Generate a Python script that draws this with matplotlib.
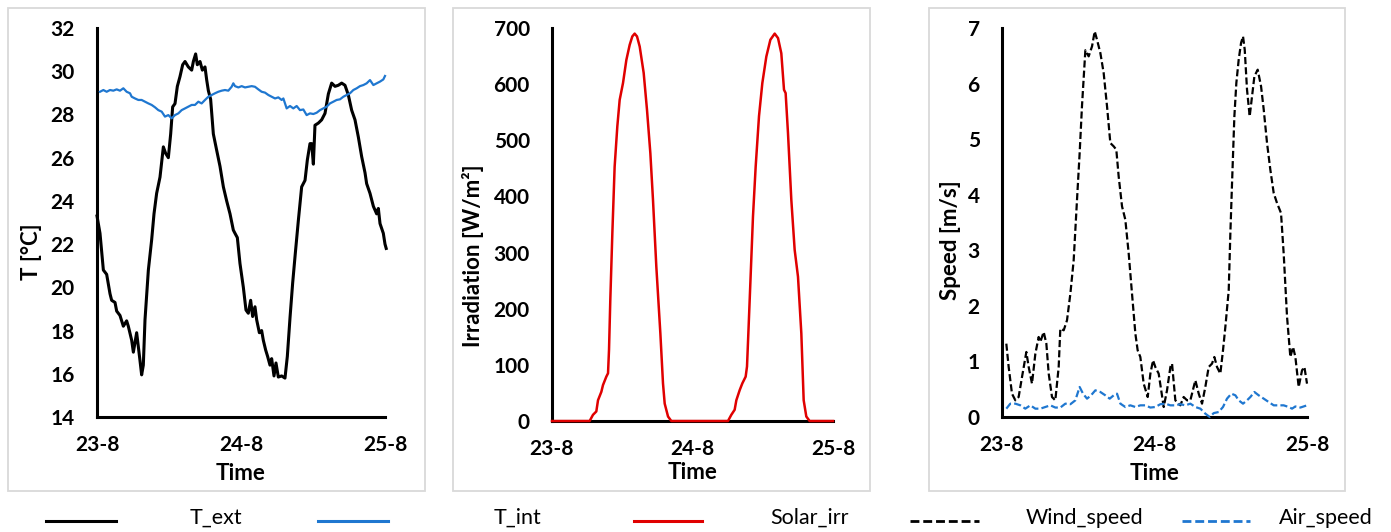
import matplotlib
matplotlib.use("Agg")
import matplotlib.pyplot as plt
from matplotlib.lines import Line2D
from matplotlib.patches import Rectangle

plt.rcParams['font.family'] = ['Lato', 'DejaVu Sans']

# ---------------- data (time in hours from 23-8 00:00) ----------------
date_ticks = [0, 24, 48]
date_labels = ["23-8", "24-8", "25-8"]

t_ext_hours = [0.0, 0.5, 1.06, 1.61, 2.17, 2.44, 3.0, 3.28, 3.83, 4.39, 4.94, 5.22, 5.78, 6.06,
               6.61, 6.89, 7.17, 7.44, 7.72, 8.0, 8.56, 9.11, 9.5, 9.94, 10.5, 11.06, 11.44,
               11.89, 12.28, 12.61, 13.0, 13.39, 13.83, 14.28, 14.67, 15.22, 15.78, 16.06, 16.44,
               16.72, 17.17, 17.56, 18.0, 18.28, 18.56, 18.94, 19.39, 19.94, 20.5, 21.06, 21.61,
               22.17, 22.72, 23.0, 23.39, 23.83, 24.39, 24.83, 25.22, 25.61, 25.94, 26.33, 26.61,
               27.06, 27.44, 27.72, 28.11, 28.44, 28.83, 29.11, 29.5, 29.83, 30.22, 30.78, 31.33,
               31.72, 32.17, 32.61, 33.06, 33.56, 34.11, 34.67, 35.06, 35.5, 35.78, 36.06, 36.33,
               36.89, 37.44, 38.0, 38.56, 39.11, 39.67, 40.22, 40.78, 41.33, 41.89, 42.44, 43.0,
               43.56, 44.11, 44.67, 44.94, 45.5, 46.06, 46.61, 46.89, 47.17, 47.72, 48.0, 48.2]
t_ext_values = [23.3, 22.5, 20.8, 20.6, 19.7, 19.4, 19.3, 18.9, 18.7, 18.2, 18.45, 18.2, 17.55, 17.0,
                17.9, 17.25, 16.6, 15.95, 16.4, 18.5, 20.8, 22.2, 23.4, 24.35, 25.1, 26.5, 26.2,
                26.0, 27.1, 28.35, 28.5, 29.3, 29.75, 30.3, 30.45, 30.2, 30.05, 30.45, 30.8, 30.3,
                30.45, 30.05, 30.2, 29.6, 29.1, 28.7, 27.1, 26.35, 25.6, 24.65, 24.0, 23.4, 22.65,
                22.5, 22.3, 21.1, 20.0, 18.95, 18.8, 19.4, 18.65, 19.1, 18.5, 17.9, 18.0, 17.55,
                17.1, 16.8, 16.4, 16.7, 15.9, 16.5, 15.85, 15.9, 15.8, 16.8, 18.6, 20.2, 21.6, 23.1,
                24.65, 24.95, 25.9, 26.65, 26.65, 25.7, 27.5, 27.6, 27.75, 28.05, 28.95, 29.45,
                29.3, 29.35, 29.45, 29.35, 28.9, 28.2, 27.75, 26.95, 26.05, 25.3, 24.8, 24.35,
                23.75, 23.4, 23.65, 22.95, 22.5, 22.0, 21.8]

t_int_hours = [0.5, 1.06, 1.61, 2.17, 2.72, 3.28, 3.83, 4.39, 4.94, 5.5, 5.78, 6.33, 6.89, 7.44,
               8.0, 8.56, 9.11, 9.67, 10.22, 10.78, 11.33, 11.89, 12.44, 13.0, 13.56, 14.11, 14.67,
               15.22, 15.78, 16.33, 16.89, 17.44, 18.0, 18.56, 19.11, 19.67, 20.22, 20.78, 21.33,
               21.89, 22.44, 22.72, 23.0, 23.56, 24.11, 24.67, 25.22, 25.78, 26.33, 26.89, 27.44,
               28.0, 28.56, 29.11, 29.67, 30.22, 30.78, 31.06, 31.61, 32.17, 32.72, 33.28, 33.83,
               34.39, 34.94, 35.5, 36.06, 36.61, 37.17, 37.72, 38.28, 38.83, 39.39, 39.94, 40.5,
               41.06, 41.61, 42.17, 42.72, 43.28, 43.83, 44.39, 44.94, 45.5, 46.06, 46.61, 47.17,
               47.72, 48.0]
t_int_values = [29.05, 29.13, 29.05, 29.13, 29.10, 29.16, 29.10, 29.21, 29.05, 28.98, 28.82, 28.74,
                28.67, 28.67, 28.59, 28.51, 28.44, 28.33, 28.20, 28.13, 27.90, 27.97, 27.82, 27.97,
                28.05, 28.20, 28.28, 28.36, 28.44, 28.44, 28.59, 28.51, 28.67, 28.82, 28.90, 28.98,
                29.05, 29.10, 29.13, 29.10, 29.28, 29.44, 29.31, 29.25, 29.31, 29.25, 29.28, 29.31,
                29.28, 29.16, 29.05, 29.01, 28.90, 28.82, 28.74, 28.79, 28.67, 28.74, 28.28, 28.39,
                28.28, 28.39, 28.20, 28.23, 27.97, 28.05, 28.02, 28.08, 28.20, 28.28, 28.36, 28.51,
                28.59, 28.67, 28.70, 28.82, 28.90, 28.98, 29.13, 29.21, 29.31, 29.36, 29.44, 29.59,
                29.36, 29.44, 29.52, 29.62, 29.78]

solar_hours = [0.0, 6.43, 7.0, 7.57, 7.86, 8.43, 8.71, 9.28, 9.57, 9.74, 9.96, 10.31, 10.70, 11.16,
               11.56, 12.13, 12.70, 13.27, 13.72, 14.12, 14.52, 14.98, 15.66, 16.23, 16.80, 17.25,
               17.82, 18.51, 18.96, 19.25, 19.82, 20.38,
               30.06, 30.63, 31.20, 31.49, 32.06, 32.51, 33.08, 33.31, 33.54, 33.88, 34.33, 34.79,
               35.36, 35.93, 36.61, 37.30, 38.04, 38.61, 39.17, 39.63, 39.91, 40.31, 40.88, 41.45,
               42.02, 42.59, 42.99, 43.44, 44.01, 48.0]
solar_values = [0, 0, 11, 17, 37, 52, 64, 79, 85, 127, 216, 335, 453, 525, 572, 602, 643, 670, 685,
                690, 685, 667, 620, 554, 477, 394, 275, 156, 67, 31, 8, 0,
                0, 11, 20, 37, 55, 67, 79, 97, 156, 245, 364, 453, 543, 602, 649, 679, 690, 682,
                655, 590, 584, 513, 394, 305, 257, 156, 37, 8, 0, 0]

wind_hours = [0.68, 1.05, 1.57, 2.10, 2.62, 3.15, 3.83, 4.20, 4.72, 5.25, 5.77, 6.03, 6.56, 6.98,
              7.35, 7.87, 8.39, 8.92, 9.18, 9.71, 10.23, 10.76, 11.28, 11.80, 12.22, 12.59, 13.12,
              13.64, 14.17, 14.59, 14.95, 15.48, 16.00, 16.53, 17.05, 17.58, 17.99, 18.36, 18.89,
              19.41, 19.94, 20.46, 20.99, 21.35, 21.77, 22.30, 22.93, 23.35, 23.77, 24.13, 24.66,
              25.45, 25.97, 26.50, 26.76, 27.28, 28.07, 28.59, 29.12, 29.64, 30.43, 30.96, 31.48,
              32.00, 32.53, 33.05, 33.42, 33.84, 34.36, 34.78, 35.15, 35.68, 35.94, 36.20, 36.57,
              36.88, 37.25, 37.62, 37.93, 38.20, 38.56, 38.98, 39.35, 39.72, 40.24, 40.77, 41.19,
              41.71, 42.23, 42.76, 43.28, 43.91, 44.33, 44.86, 45.38, 45.80, 46.17, 46.69, 47.22,
              47.59, 48.0]
wind_values = [1.32, 0.9, 0.42, 0.30, 0.36, 0.72, 1.17, 0.9, 0.6, 1.14, 1.44, 1.35, 1.53, 1.32,
               0.78, 0.36, 0.3, 0.9, 1.59, 1.56, 1.74, 2.22, 2.82, 3.9, 4.75, 5.6, 6.6, 6.49, 6.67,
               6.94, 6.79, 6.55, 6.19, 5.59, 4.93, 4.87, 4.81, 4.33, 3.79, 3.55, 2.94, 2.22, 1.5,
               1.2, 1.08, 0.6, 0.36, 0.78, 1.02, 0.9, 0.78, 0.18, 0.48, 0.9, 0.96, 0.30, 0.21,
               0.36, 0.30, 0.30, 0.66, 0.42, 0.24, 0.54, 0.9, 0.96, 1.08, 0.9, 0.78, 1.2, 1.62,
               2.28, 3.31, 4.2, 5.41, 6.01, 6.43, 6.73, 6.85, 6.61, 5.89, 5.41, 5.77, 6.13, 6.25,
               5.95, 5.53, 4.93, 4.45, 4.03, 3.85, 3.67, 2.94, 1.8, 1.08, 1.26, 1.08, 0.54, 0.84,
               0.9, 0.6]

air_hours = [0.68, 1.31, 2.10, 2.89, 3.67, 4.46, 5.25, 6.03, 6.82, 7.61, 8.39, 9.18, 9.97, 10.76,
             11.54, 12.22, 12.75, 13.38, 14.01, 14.69, 15.48, 16.26, 16.95, 17.58, 18.10, 18.63,
             19.41, 20.20, 20.99, 21.77, 22.56, 23.35, 24.13, 24.92, 25.71, 26.50, 27.28, 28.07,
             28.86, 29.64, 30.43, 31.22, 32.00, 32.69, 33.32, 34.10, 34.78, 35.41, 36.10, 36.73,
             37.25, 37.93, 38.56, 39.09, 39.72, 40.40, 41.19, 41.97, 42.76, 43.55, 44.33, 45.12,
             45.65, 46.17, 46.96, 48.0]
air_values = [0.15, 0.24, 0.24, 0.21, 0.15, 0.21, 0.15, 0.15, 0.18, 0.21, 0.17, 0.17, 0.24, 0.23,
              0.3, 0.54, 0.42, 0.33, 0.39, 0.48, 0.45, 0.39, 0.33, 0.39, 0.42, 0.24, 0.18, 0.21,
              0.18, 0.21, 0.21, 0.17, 0.18, 0.23, 0.24, 0.21, 0.21, 0.23, 0.21, 0.24, 0.18, 0.15,
              0.06, 0.0, 0.07, 0.09, 0.18, 0.33, 0.42, 0.39, 0.3, 0.24, 0.3, 0.36, 0.45, 0.39,
              0.33, 0.27, 0.21, 0.21, 0.21, 0.18, 0.15, 0.19, 0.17, 0.21]

# ---------------- figure ----------------
W, H = 1391, 532
fig = plt.figure(figsize=(W / 100, H / 100), dpi=100)

BLACK = "#000000"
BLUE = "#1f77d0"
RED = "#e00000"
DASH = (0, (3.2, 1.4))
TICK_FS = 15
LABEL_FS = 16
LEG_FS = 15.5


def px_rect(x0, x1, ytop, ybot):
    return [x0 / W, (H - ybot) / H, (x1 - x0) / W, (ybot - ytop) / H]


# panel frames (Excel chart area borders)
for x0, x1 in [(8, 425), (453, 870), (929, 1345)]:
    fig.add_artist(Rectangle((x0 / W, (H - 491) / H), (x1 - x0) / W, (491 - 8) / H,
                             transform=fig.transFigure, fill=False, ec="#d9d9d9", lw=1.3))


def style(ax, ylim, yticks, ylabel, ylab_x, ylab_y, xlab_y):
    ax.set_xlim(0, 48)
    ax.set_ylim(*ylim)
    ax.set_yticks(yticks)
    ax.set_xticks(date_ticks)
    ax.set_xticklabels(date_labels)
    for s in ("top", "right"):
        ax.spines[s].set_visible(False)
    for s in ("left", "bottom"):
        ax.spines[s].set_linewidth(2.2)
        ax.spines[s].set_color("black")
    ax.tick_params(axis="y", length=0, pad=16, labelsize=TICK_FS)
    ax.tick_params(axis="x", length=0, pad=13, labelsize=TICK_FS)
    for lab in ax.get_xticklabels() + ax.get_yticklabels():
        lab.set_fontweight("bold")
    ax.set_xlabel("Time", fontsize=LABEL_FS, fontweight="bold")
    ax.xaxis.set_label_coords(0.5, xlab_y)
    ax.xaxis.label.set_va("center")
    ax.set_ylabel(ylabel, fontsize=LABEL_FS, fontweight="bold")
    ax.yaxis.set_label_coords(ylab_x, ylab_y)
    ax.yaxis.label.set_va("center")
    ax.patch.set_alpha(0)


ax1 = fig.add_axes(px_rect(97, 385, 28, 417))
ax1.plot(t_ext_hours, t_ext_values, color=BLACK, lw=2.2, zorder=3, clip_on=False)
ax1.plot(t_int_hours, t_int_values, color=BLUE, lw=1.6, zorder=3, clip_on=False)
style(ax1, (14, 32), list(range(14, 33, 2)), "T [°C]", -0.226, 0.424, -0.144)

ax2 = fig.add_axes(px_rect(552, 833, 28, 421))
ax2.plot(solar_hours, solar_values, color=RED, lw=1.8, zorder=3, clip_on=False)
style(ax2, (0, 700), list(range(0, 701, 100)), "Irradiation [W/m²]", -0.281, 0.42, -0.132)

ax3 = fig.add_axes(px_rect(1002, 1307, 28, 417))
ax3.plot(wind_hours, wind_values, color=BLACK, lw=1.6, ls=DASH, zorder=3, clip_on=False)
ax3.plot(air_hours, air_values, color=BLUE, lw=1.6, ls=DASH, zorder=3, clip_on=False)
style(ax3, (0, 7), list(range(0, 8)), "Speed [m/s]", -0.170, 0.455, -0.144)

# legend row (Excel style, spread across the bottom)
legend_items = [
    ("T_ext", BLACK, "-", 2.2, 46, 116, 216),
    ("T_int", BLUE, "-", 2.2, 318, 388, 518),
    ("Solar_irr", RED, "-", 2.2, 634, 702, 810),
    ("Wind_speed", BLACK, DASH, 2.0, 910, 979, 1084),
    ("Air_speed", BLUE, DASH, 2.0, 1182, 1250, 1326),
]
ly = (H - 521) / H
for name, col, ls, lw, xa, xb, xt in legend_items:
    fig.add_artist(Line2D([xa / W, xb / W], [ly, ly], transform=fig.transFigure,
                          color=col, ls=ls, lw=lw))
    fig.text(xt / W, (H - 518) / H, name, ha="center", va="center", fontsize=LEG_FS)

fig.savefig("out.png", dpi=100)
